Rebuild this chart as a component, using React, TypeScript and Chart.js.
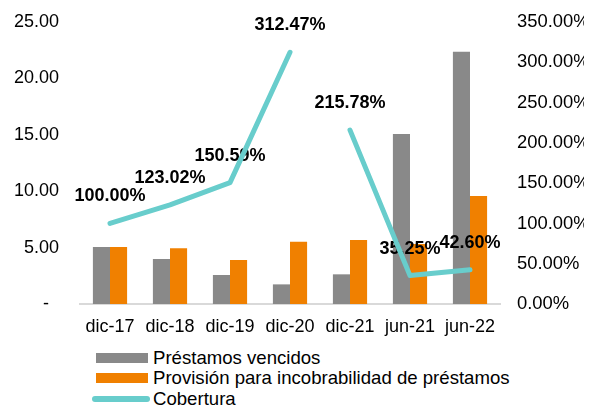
import React, { useEffect, useRef } from 'react';
import { Chart, registerables } from 'chart.js';

Chart.register(...registerables);

const FONT = 'Arial, "Liberation Sans", sans-serif';

const categories = ['dic-17', 'dic-18', 'dic-19', 'dic-20', 'dic-21', 'jun-21', 'jun-22'];
const prestamosVencidos = [5.05, 3.99, 2.57, 1.74, 2.63, 15.07, 22.37];
const provision = [5.05, 4.94, 3.9, 5.52, 5.67, 5.32, 9.57];
const cobertura = [100.0, 123.02, 150.59, 312.47, 215.78, 35.25, 42.6];

const seriesNames = ['Préstamos vencidos', 'Provisión para incobrabilidad de préstamos', 'Cobertura'];
const seriesColors = ['#898989', '#f08000', '#68cdcc'];

const lineLabelPlugin = {
  id: 'lineLabels',
  beforeDatasetDraw(chart: any, args: any) {
    if (args.index !== 2) return;
    const ctx = chart.ctx;
    const meta = chart.getDatasetMeta(2);
    ctx.save();
    ctx.font = `bold 18px ${FONT}`;
    ctx.fillStyle = '#000';
    ctx.textAlign = 'center';
    ctx.textBaseline = 'middle';
    meta.data.forEach((pt: any, i: number) => {
      ctx.fillText(cobertura[i].toFixed(2) + '%', pt.x, pt.y - 27);
    });
    ctx.restore();
  },
};

export default function App() {
  const ref = useRef<HTMLCanvasElement>(null);

  useEffect(() => {
    document.documentElement.style.overflow = 'hidden';
    document.body.style.marginBottom = '0px';
    Chart.defaults.font.family = FONT;
    const chart = new Chart(ref.current as HTMLCanvasElement, {
      type: 'bar',
      data: {
        labels: categories,
        datasets: [
          {
            type: 'bar',
            label: seriesNames[0],
            data: prestamosVencidos,
            backgroundColor: seriesColors[0],
            yAxisID: 'y',
            order: 1,
            categoryPercentage: 0.57,
            barPercentage: 1,
          },
          {
            type: 'bar',
            label: seriesNames[1],
            data: provision,
            backgroundColor: seriesColors[1],
            yAxisID: 'y',
            order: 1,
            categoryPercentage: 0.57,
            barPercentage: 1,
          },
          {
            type: 'line',
            label: seriesNames[2],
            data: cobertura,
            borderColor: seriesColors[2],
            backgroundColor: seriesColors[2],
            borderWidth: 5,
            borderCapStyle: 'round',
            borderJoinStyle: 'round',
            pointRadius: 0,
            tension: 0,
            yAxisID: 'y1',
            order: 0,
            segment: {
              borderColor: (c: any) => (c.p0DataIndex === 3 ? 'rgba(0,0,0,0)' : undefined),
            },
          } as any,
        ],
      },
      options: {
        animation: false,
        responsive: false,
        layout: { padding: { top: 14, left: 0, right: 0, bottom: 0 } },
        plugins: {
          legend: { display: false },
          tooltip: { enabled: false },
        },
        scales: {
          x: {
            grid: { display: false, drawTicks: false },
            border: { display: true, color: '#d9d9d9', width: 2 },
            ticks: { font: { size: 18 }, color: '#000', padding: 12, maxRotation: 0 },
            afterFit: (s: any) => {
              s.height = 39;
            },
          },
          y: {
            position: 'left',
            min: 0,
            max: 25,
            grid: { display: false, drawTicks: false },
            border: { display: false },
            ticks: {
              stepSize: 5,
              font: { size: 18 },
              color: '#000',
              padding: 21,
              callback: (v: any) => (v === 0 ? '-  ' : Number(v).toFixed(2)),
            },
            afterFit: (s: any) => {
              s.width = 72;
              s.paddingTop = 0;
              s.paddingBottom = 0;
            },
          },
          y1: {
            position: 'right',
            min: 0,
            max: 350,
            grid: { display: false, drawTicks: false },
            border: { display: false },
            ticks: {
              stepSize: 50,
              font: { size: 18.4 },
              color: '#000',
              padding: 17,
              callback: (v: any) => Number(v).toFixed(2) + '%',
            },
            afterFit: (s: any) => {
              s.width = 84;
              s.paddingTop = 0;
              s.paddingBottom = 0;
            },
          },
        },
      } as any,
      plugins: [lineLabelPlugin],
    });
    return () => chart.destroy();
  }, []);

  const rowCenters = [350, 370, 390.5];

  return (
    <div style={{ position: 'relative', width: 576, height: 398, fontFamily: FONT }}>
      <canvas ref={ref} width={576} height={335} style={{ display: 'block', width: 576, height: 335 }} />
      {seriesNames.map((name, i) => {
        const c = rowCenters[i];
        const isLine = i === 2;
        return (
          <React.Fragment key={name}>
            <div
              style={{
                position: 'absolute',
                left: isLine ? 84 : 88,
                top: isLine ? c - 3 : c - 5,
                width: isLine ? 58 : 52,
                height: isLine ? 6 : 10,
                borderRadius: isLine ? 3 : 0,
                background: seriesColors[i],
              }}
            />
            <div
              style={{
                position: 'absolute',
                left: 145,
                top: c - 11,
                height: 22,
                lineHeight: '22px',
                fontSize: 18.6,
                color: '#000',
                whiteSpace: 'nowrap',
              }}
            >
              {name}
            </div>
          </React.Fragment>
        );
      })}
    </div>
  );
}
